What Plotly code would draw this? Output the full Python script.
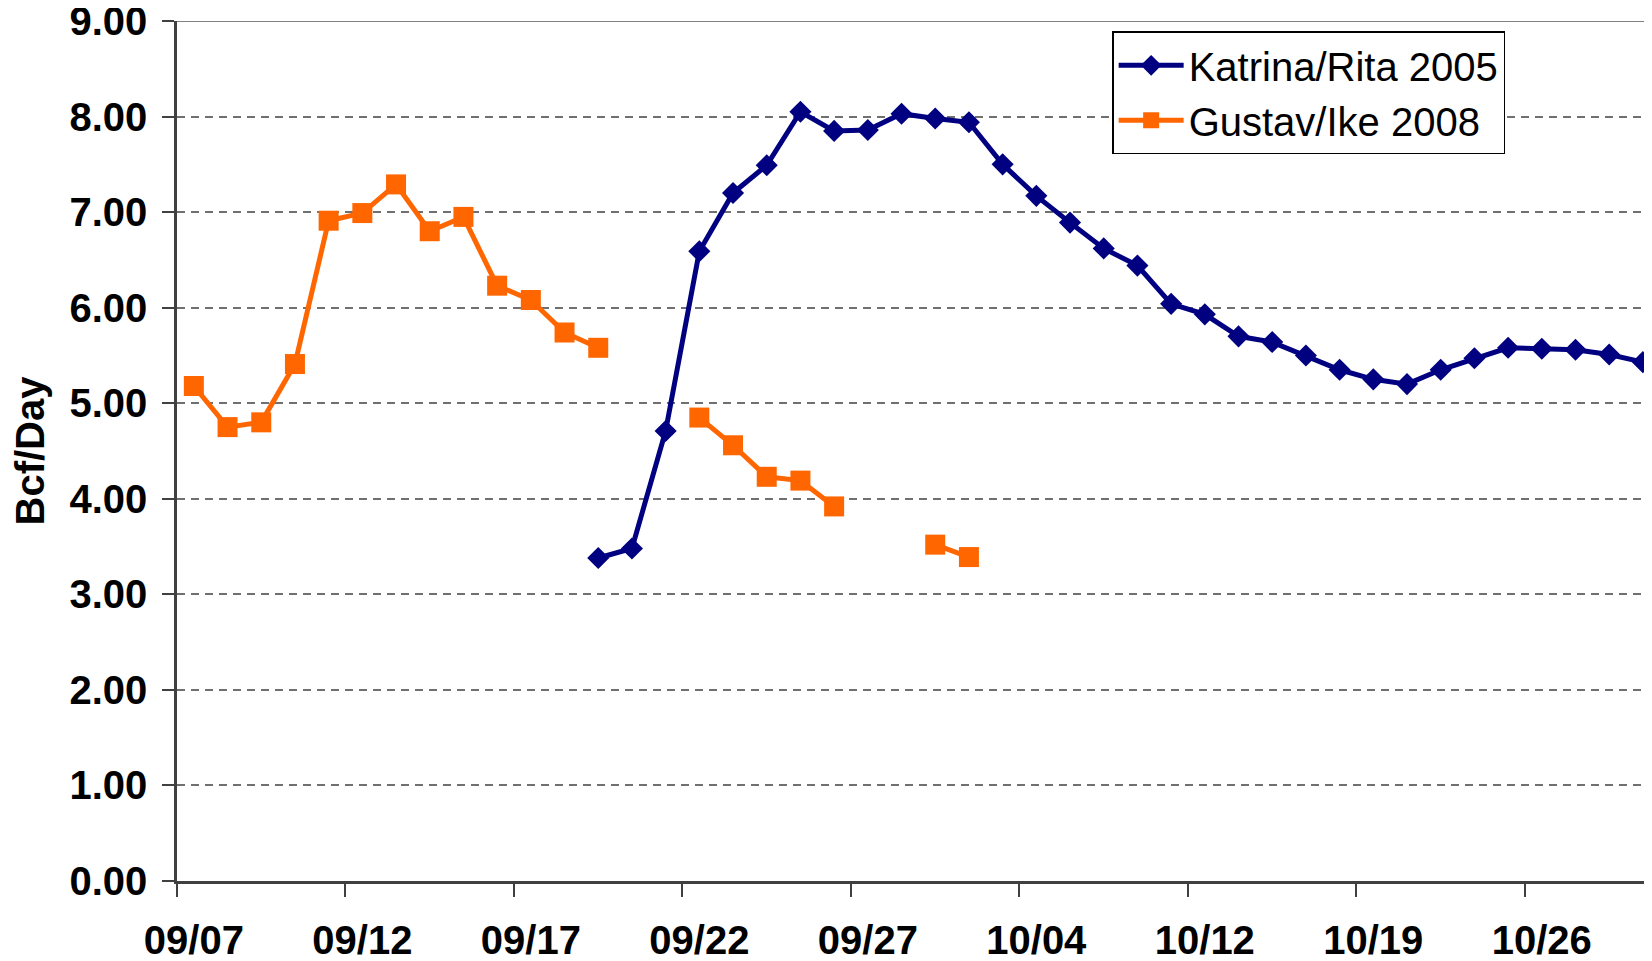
import plotly.graph_objects as go

categories = [
    "09/07", "09/08", "09/09", "09/10", "09/11", "09/12", "09/13", "09/14", "09/15", "09/16",
    "09/17", "09/18", "09/19", "09/20", "09/21", "09/22", "09/23", "09/24", "09/25", "09/26",
    "09/27", "09/28", "09/29", "09/30", "10/03", "10/04", "10/05", "10/06", "10/07", "10/11",
    "10/12", "10/13", "10/14", "10/17", "10/18", "10/19", "10/20", "10/21", "10/24", "10/25",
    "10/26", "10/27", "10/28", "10/31",
]

katrina_rita_2005 = [
    None, None, None, None, None, None, None, None, None, None,
    None, None, 3.38, 3.48, 4.71, 6.59, 7.20, 7.49, 8.05, 7.85,
    7.86, 8.03, 7.98, 7.94, 7.50, 7.17, 6.89, 6.62, 6.44, 6.04,
    5.93, 5.70, 5.64, 5.50, 5.35, 5.25, 5.20, 5.35, 5.47, 5.58,
    5.57, 5.56, 5.51, 5.43,
]

gustav_ike_2008 = [
    5.18, 4.75, 4.80, 5.41, 6.91, 6.99, 7.29, 6.80, 6.95, 6.23,
    6.08, 5.74, 5.58, None, None, 4.85, 4.56, 4.23, 4.19, 3.92,
    None, None, 3.52, 3.39, None, None, None, None, None, None,
    None, None, None, None, None, None, None, None, None, None,
    None, None, None, None,
]

y_tick_values = [0, 1, 2, 3, 4, 5, 6, 7, 8, 9]

FONT = "Liberation Sans, Arial, sans-serif"
FS = 40

fig = go.Figure()
fig.add_trace(go.Scatter(
    x=categories, y=katrina_rita_2005, name="Katrina/Rita 2005",
    mode="lines+markers", connectgaps=False,
    line=dict(color="#000080", width=5),
    marker=dict(symbol="diamond", size=17, color="#000080"),
))
fig.add_trace(go.Scatter(
    x=categories, y=gustav_ike_2008, name="Gustav/Ike 2008",
    mode="lines+markers", connectgaps=False,
    line=dict(color="#FF6600", width=5),
    marker=dict(symbol="square", size=20, color="#FF6600"),
))

# top border of plot area
fig.add_shape(type="line", xref="paper", yref="y", x0=0, x1=1, y0=9, y1=9,
              line=dict(color="#808080", width=2), layer="below")

# the page body adds an 8px margin, so the figure is 8px smaller on each side
fig.update_layout(
    width=1644, height=953,
    margin=dict(l=169, r=0, t=13, b=80),
    paper_bgcolor="white", plot_bgcolor="white",
    font=dict(family=FONT, color="black"),
    showlegend=True,
    legend=dict(
        x=0.634, y=0.988, xanchor="left", yanchor="top",
        bgcolor="white", bordercolor="black", borderwidth=1.5,
        font=dict(family=FONT, size=FS, color="black"),
        itemwidth=65, tracegroupgap=0,
    ),
    xaxis=dict(
        type="category", categoryorder="array", categoryarray=categories,
        range=[-0.5, 43.27],
        tickmode="linear", tick0=0, dtick=5,
        tickson="boundaries", tickangle=0, automargin=False,
        ticks="outside", ticklen=13, tickwidth=1.5, tickcolor="#404040",
        showline=True, linecolor="#404040", linewidth=2.5,
        showgrid=False, zeroline=False,
        tickfont=dict(family=FONT, size=FS, color="black", weight="bold"),
        ticklabelstandoff=22, ticklabeloverflow="allow",
    ),
    yaxis=dict(
        range=[0, 9], tickmode="array", tickvals=y_tick_values,
        tickformat=".2f", automargin=False,
        ticks="outside", ticklen=12, tickwidth=1.5, tickcolor="#404040",
        showline=True, linecolor="#404040", linewidth=2.5,
        showgrid=True, gridcolor="#707070", gridwidth=1.5, griddash="8px,6px",
        zeroline=False,
        tickfont=dict(family=FONT, size=FS, color="black", weight="bold"),
        ticklabelstandoff=7, ticklabeloverflow="allow",
        title=dict(text="Bcf/Day", font=dict(family=FONT, size=FS, color="black", weight="bold"),
                   standoff=16),
    ),
)

fig.write_html("out.html")
